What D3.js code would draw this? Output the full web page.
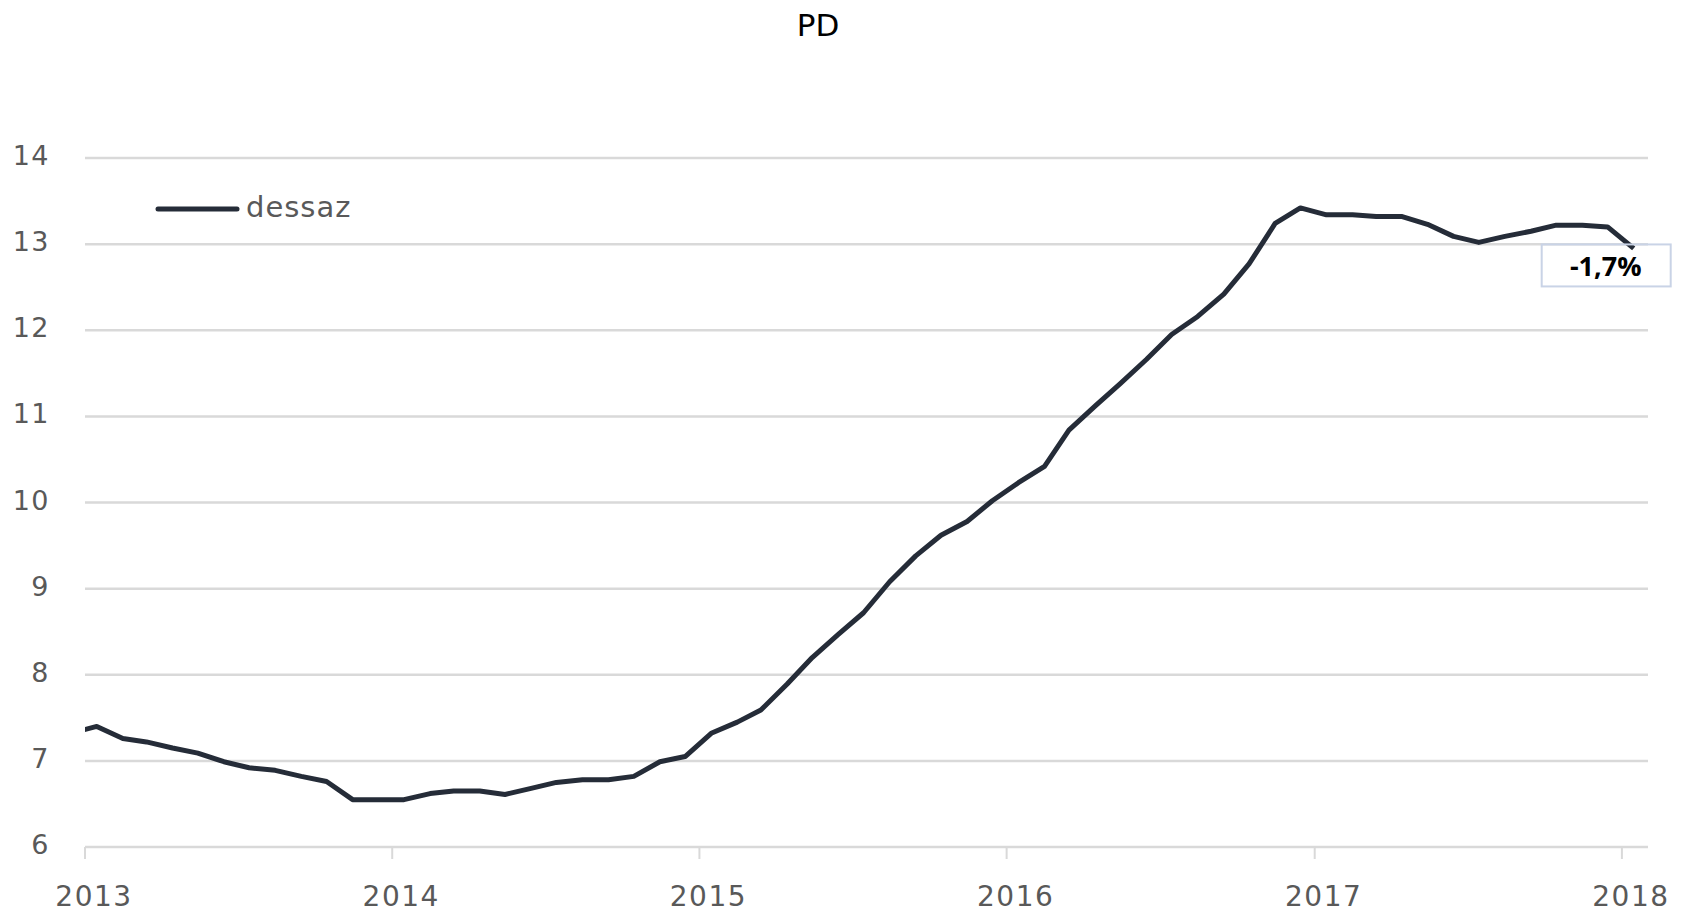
<!DOCTYPE html>
<html>
<head>
<meta charset="utf-8">
<script src="https://cdn.jsdelivr.net/npm/d3@7"></script>
<style>
  body { margin: 0; background: #fff; }
  svg { display: block; }
  .grey { fill: #595959; font-family: "DejaVu Sans", Verdana, sans-serif; letter-spacing: 1.5px; }
</style>
</head>
<body>
<div id="chart"></div>
<script>
// monthly values, Dec 2012 .. Jan 2018 (first one sits just left of the plot and is clipped)
const firstMonth = new Date(2012, 11, 1);
const values = [
  7.32,
  7.40, 7.26, 7.22, 7.15, 7.09, 6.99, 6.92, 6.89, 6.82, 6.76, 6.55, 6.55,
  6.55, 6.62, 6.65, 6.65, 6.61, 6.68, 6.75, 6.78, 6.78, 6.82, 6.99, 7.05,
  7.32, 7.45, 7.59, 7.89, 8.20, 8.47, 8.72, 9.08, 9.38, 9.62, 9.78, 10.02,
  10.23, 10.42, 10.84, 11.12, 11.38, 11.66, 11.95, 12.16, 12.42, 12.77, 13.24, 13.42,
  13.34, 13.34, 13.32, 13.32, 13.23, 13.09, 13.02, 13.09, 13.15, 13.22, 13.22, 13.20,
  12.95
];
const yearTicks = [2013, 2014, 2015, 2016, 2017, 2018];
const yTicks = [6, 7, 8, 9, 10, 11, 12, 13, 14];
const seriesName = "dessaz";
const title = "PD";
const lastLabel = "-1,7%";

const width = 1694, height = 912;
const m = { left: 85, right: 1648, top: 158, bottom: 847 };

const svg = d3.select("#chart").append("svg")
  .attr("width", width)
  .attr("height", height);

const months = d3.timeMonth.range(firstMonth, d3.timeMonth.offset(firstMonth, values.length));
const data = months.map((mo, i) => ({ date: d3.timeDay.offset(mo, 14), value: values[i] }));

const x = d3.scaleTime()
  .domain([new Date(2013, 0, 1), new Date(2018, 1, 1)])
  .range([m.left, m.right]);
const y = d3.scaleLinear().domain([6, 14]).range([m.bottom, m.top]);

// title
svg.append("text")
  .attr("x", 818).attr("y", 36)
  .attr("text-anchor", "middle")
  .style("font-family", "DejaVu Sans, sans-serif")
  .style("font-size", "31px")
  .style("fill", "#000")
  .text(title);

// gridlines
svg.append("g").selectAll("line")
  .data(yTicks)
  .join("line")
  .attr("x1", m.left).attr("x2", m.right)
  .attr("y1", d => y(d)).attr("y2", d => y(d))
  .attr("stroke", "#d9d9d9")
  .attr("stroke-width", 2.5);

// y labels
svg.append("g").selectAll("text")
  .data(yTicks)
  .join("text")
  .attr("class", "grey")
  .attr("x", 50)
  .attr("y", d => y(d) + 7)
  .attr("text-anchor", "end")
  .style("font-size", "27px")
  .text(d => d);

// x ticks + labels
const xg = svg.append("g");
xg.selectAll("line")
  .data(yearTicks)
  .join("line")
  .attr("x1", d => x(new Date(d, 0, 1))).attr("x2", d => x(new Date(d, 0, 1)))
  .attr("y1", m.bottom).attr("y2", m.bottom + 12)
  .attr("stroke", "#d9d9d9")
  .attr("stroke-width", 2);
xg.selectAll("text")
  .data(yearTicks)
  .join("text")
  .attr("class", "grey")
  .attr("x", d => x(new Date(d, 0, 1)) + 9)
  .attr("y", 906)
  .attr("text-anchor", "middle")
  .style("font-size", "28px")
  .text(d => d);

// line
svg.append("clipPath").attr("id", "plotclip")
  .append("rect")
  .attr("x", m.left).attr("y", 0)
  .attr("width", m.right - m.left).attr("height", height);

const line = d3.line()
  .x(d => x(d.date))
  .y(d => y(d.value));

svg.append("path")
  .datum(data)
  .attr("clip-path", "url(#plotclip)")
  .attr("d", line)
  .attr("fill", "none")
  .attr("stroke", "#252c38")
  .attr("stroke-width", 5)
  .attr("stroke-linejoin", "round");

// legend
svg.append("line")
  .attr("x1", 158).attr("x2", 237)
  .attr("y1", 209).attr("y2", 209)
  .attr("stroke", "#252c38")
  .attr("stroke-width", 5)
  .attr("stroke-linecap", "round");
svg.append("text")
  .attr("class", "grey")
  .attr("x", 246).attr("y", 217)
  .style("font-size", "29px")
  .style("letter-spacing", "1px")
  .text(seriesName);

// last value annotation
const last = data[data.length - 1];
const lx = x(last.date), ly = y(last.value);
svg.append("rect")
  .attr("x", lx - 92).attr("y", ly - 4)
  .attr("width", 129).attr("height", 42)
  .attr("fill", "none")
  .attr("stroke", "#c9d3e6")
  .attr("stroke-width", 2);
svg.append("text")
  .attr("x", lx - 28).attr("y", ly + 28)
  .attr("text-anchor", "middle")
  .style("font-family", "Open Sans, sans-serif")
  .style("font-weight", "bold")
  .style("font-size", "27px")
  .style("fill", "#000")
  .text(lastLabel);
</script>
</body>
</html>
